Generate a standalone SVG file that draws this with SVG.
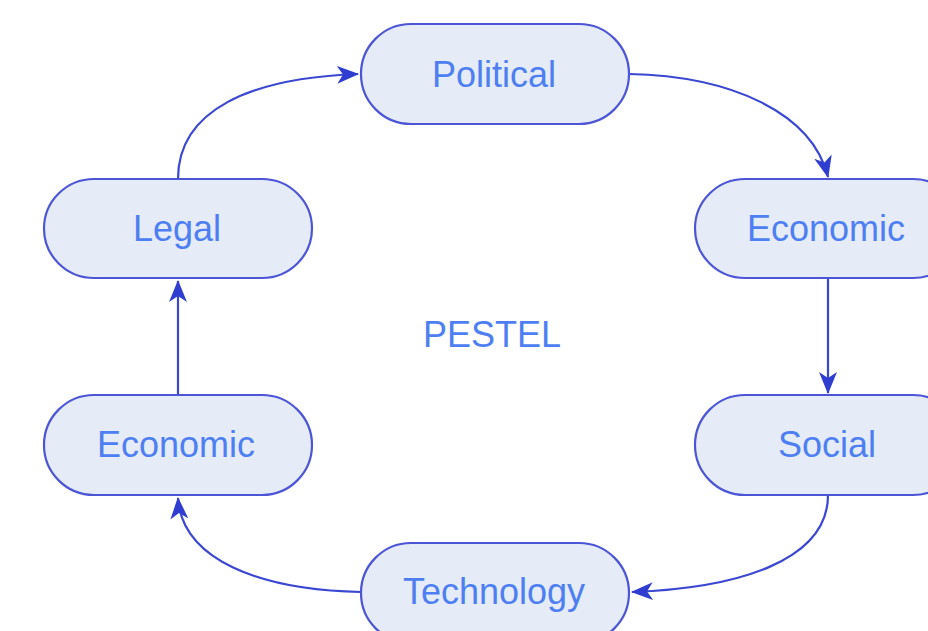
<svg xmlns="http://www.w3.org/2000/svg" width="928" height="631" viewBox="0 0 928 631">
  <style>
    .node rect { fill: #e5ecf8; stroke: #4b55d6; stroke-width: 2.2; }
    .node text, .center { font-family: "Liberation Sans", Arial, sans-serif; font-size: 36px; fill: #4d7ff2; text-anchor: middle; }
    .edge { fill: none; stroke: #3a47d2; stroke-width: 2.2; }
  </style>
  <defs>
    <marker id="arrow" viewBox="0 0 22 18" refX="21" refY="9" markerWidth="22" markerHeight="18" markerUnits="userSpaceOnUse" orient="auto">
      <path d="M0,0 L22,9 L0,18 L6,9 Z" fill="#2f3dd0"/>
    </marker>
  </defs>

  <rect width="928" height="631" fill="#ffffff"/>

  <g id="connectors">
    <path class="edge" d="M178,179 C178,110 250,78 358,74" marker-end="url(#arrow)"/>
    <path class="edge" d="M629,74 C730,76 812,112 828,177" marker-end="url(#arrow)"/>
    <path class="edge" d="M828,278 L828,393" marker-end="url(#arrow)"/>
    <path class="edge" d="M828,495 C828,560 740,588 632,592" marker-end="url(#arrow)"/>
    <path class="edge" d="M361,592 C260,590 182,560 178,498" marker-end="url(#arrow)"/>
    <path class="edge" d="M178,395 L178,281" marker-end="url(#arrow)"/>
  </g>

  <g id="political" class="node">
    <rect x="361" y="24" width="268" height="100" rx="50" ry="50"/>
    <text x="494" y="87">Political</text>
  </g>
  <g id="economic-right" class="node">
    <rect x="695" y="179" width="268" height="99" rx="50" ry="50"/>
    <text x="826" y="241">Economic</text>
  </g>
  <g id="social" class="node">
    <rect x="695" y="395" width="268" height="100" rx="50" ry="50"/>
    <text x="827" y="457">Social</text>
  </g>
  <g id="technology" class="node">
    <rect x="361" y="543" width="268" height="100" rx="50" ry="50"/>
    <text x="494" y="604">Technology</text>
  </g>
  <g id="economic-left" class="node">
    <rect x="44" y="395" width="268" height="100" rx="50" ry="50"/>
    <text x="176" y="457">Economic</text>
  </g>
  <g id="legal" class="node">
    <rect x="44" y="179" width="268" height="99" rx="50" ry="50"/>
    <text x="177" y="241">Legal</text>
  </g>

  <text class="center" x="492" y="347">PESTEL</text>
</svg>
